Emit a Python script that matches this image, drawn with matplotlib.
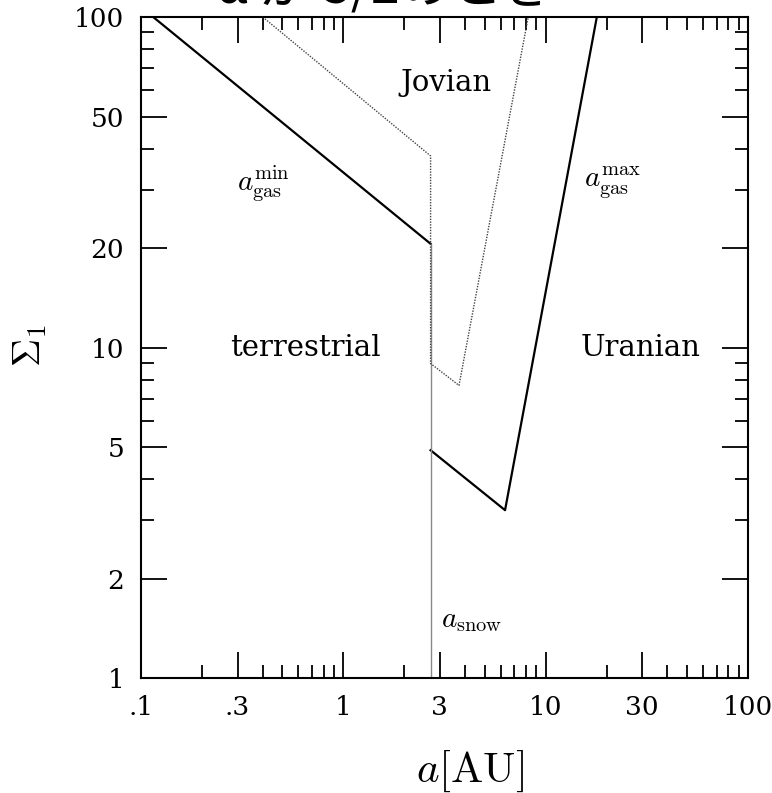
import matplotlib
matplotlib.use('Agg')
import matplotlib.pyplot as plt
from matplotlib.ticker import FixedLocator, FixedFormatter, NullFormatter

plt.rcParams['mathtext.fontset'] = 'cm'

# boundary curves (a [AU], Sigma_1)
gas_min_a = [0.115, 2.7]
gas_min_s = [100, 20.6]
gas_max_a = [2.7, 6.3, 17.9]
gas_max_s = [4.89, 3.22, 100]
dotted_a = [0.40, 2.7, 2.7, 3.73, 8.2]
dotted_s = [100, 38.0, 8.95, 7.68, 100]
snow_a = [2.7, 2.7]
snow_s = [1, 20.6]

xticks_major = [0.1, 0.3, 1, 3, 10, 30, 100]
xtick_labels = ['.1', '.3', '1', '3', '10', '30', '100']
xticks_minor = [0.2, 0.4, 0.5, 0.6, 0.7, 0.8, 0.9, 2, 4, 5, 6, 7, 8, 9,
                20, 40, 50, 60, 70, 80, 90]
yticks_major = [1, 2, 5, 10, 20, 50, 100]
ytick_labels = ['1', '2', '5', '10', '20', '50', '100']
yticks_minor = [3, 4, 6, 7, 8, 9, 30, 40, 60, 70, 80, 90]

fig = plt.figure(figsize=(7.72, 7.93), dpi=100)
ax = fig.add_axes([0.1826, 0.145, 0.7863, 0.8335])

ax.plot(gas_min_a, gas_min_s, color='black', lw=1.6)
ax.plot(gas_max_a, gas_max_s, color='black', lw=1.6)
ax.plot(snow_a, snow_s, color='#888888', lw=1.0)
ax.plot(dotted_a, dotted_s, color='#444444', lw=1.0, linestyle=(0, (1, 1)))

ax.set_xscale('log')
ax.set_yscale('log')
ax.set_xlim(0.1, 100)
ax.set_ylim(1, 100)

ax.xaxis.set_major_locator(FixedLocator(xticks_major))
ax.xaxis.set_major_formatter(FixedFormatter(xtick_labels))
ax.xaxis.set_minor_locator(FixedLocator(xticks_minor))
ax.xaxis.set_minor_formatter(NullFormatter())
ax.yaxis.set_major_locator(FixedLocator(yticks_major))
ax.yaxis.set_major_formatter(FixedFormatter(ytick_labels))
ax.yaxis.set_minor_locator(FixedLocator(yticks_minor))
ax.yaxis.set_minor_formatter(NullFormatter())

ax.tick_params(which='both', direction='in', top=True, right=True, width=1.3)
ax.tick_params(which='major', length=19, labelsize=19, pad=12)
ax.tick_params(which='minor', length=9.5)
for lab in ax.get_xticklabels() + ax.get_yticklabels():
    lab.set_family('DejaVu Serif')
for sp in ax.spines.values():
    sp.set_linewidth(1.5)

serif = dict(family='DejaVu Serif', fontsize=21, ha='center', va='center')
ax.text(3.22, 63, 'Jovian', **serif)
ax.text(0.65, 10, 'terrestrial', **serif)
ax.text(29.5, 10, 'Uranian', **serif)
ax.text(0.405, 31.3, r'$a_{\rm gas}^{\rm min}$', fontsize=21, ha='center', va='center')
ax.text(21.3, 31.5, r'$a_{\rm gas}^{\rm max}$', fontsize=21, ha='center', va='center')
ax.text(4.3, 1.5, r'$a_{\rm snow}$', fontsize=21, ha='center', va='center')

fig.text(470 / 772, 1 - 771 / 793, r'$a[\mathrm{AU}]$', fontsize=31, ha='center', va='center')
fig.text(30 / 772, 1 - 345 / 793, r'$\Sigma_1$', fontsize=28, ha='center', va='center', rotation=90)

# title, mostly cut off at the top edge as in the source image
fig.text(0.499, 0.996, 'α が 3/2のとき', fontsize=37, ha='center', va='baseline',
         family=['Noto Sans CJK JP', 'DejaVu Sans'])

fig.savefig('out.png', dpi=100)
